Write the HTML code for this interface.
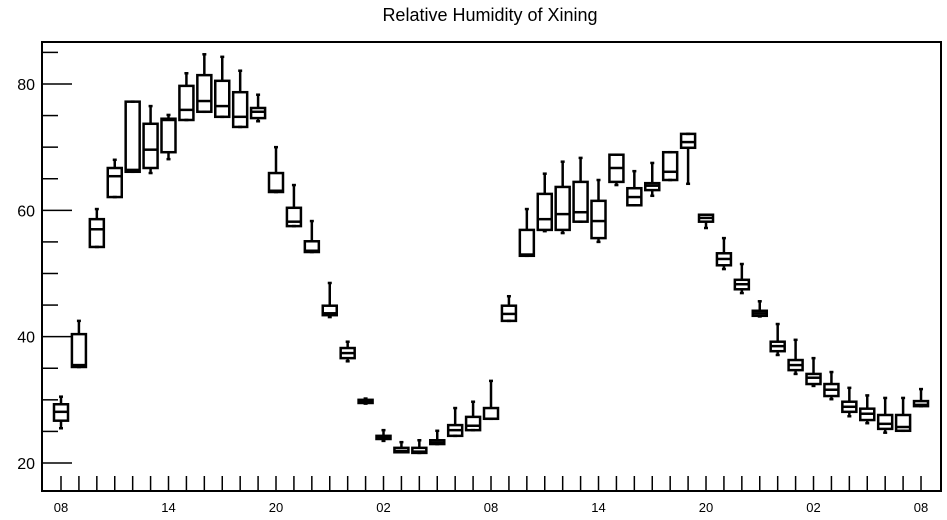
<!DOCTYPE html>
<html><head><meta charset="utf-8"><style>
html,body{margin:0;padding:0;background:#fff}
svg{display:block}
text{font-family:"Liberation Sans",sans-serif;fill:#000}
</style></head><body>
<svg id="chart" width="947" height="520" viewBox="0 0 947 520" xmlns="http://www.w3.org/2000/svg">
<text x="490" y="21" font-size="18" text-anchor="middle">Relative Humidity of Xining</text>
<rect x="42" y="42" width="899" height="449" fill="none" stroke="#000" stroke-width="2"/>
<g id="axes"></g>
<g id="boxes"></g>
</svg>
<script>
const xLabels = ["08","14","20","02","08","14","20","02","08"];
const yTicks = [20,40,60,80];
const mins = [25.5,35.2,54.2,62.1,66.1,65.9,68.1,74.3,75.6,74.8,73.2,74.1,62.9,57.5,53.4,43.1,36.1,29.4,23.5,21.7,21.6,23.0,24.3,25.2,27.0,42.5,52.8,56.7,56.4,58.2,55.0,64.0,60.8,62.3,64.8,64.2,57.2,50.7,46.9,43.2,37.1,34.1,32.2,30.1,27.4,26.3,24.8,25.1,29.0];
const q1s = [26.7,35.2,54.2,62.1,66.1,66.7,69.2,74.3,75.6,74.8,73.2,74.6,62.9,57.5,53.4,43.4,36.6,29.5,23.8,21.7,21.6,23.0,24.3,25.2,27.0,42.5,52.8,56.9,56.9,58.2,55.6,64.5,60.8,63.2,64.8,69.9,58.2,51.3,47.5,43.3,37.7,34.7,32.5,30.6,28.1,26.8,25.4,25.1,29.0];
const meds = [28.1,35.5,57.0,65.4,66.4,69.6,74.3,75.9,77.3,76.5,74.8,75.6,63.1,58.2,53.6,43.7,37.4,29.7,24.0,21.9,21.8,23.2,25.2,25.9,27.0,43.6,53.0,58.6,59.4,59.7,58.3,66.7,62.1,63.9,66.1,70.8,58.8,52.3,48.3,43.7,38.5,35.5,33.5,31.6,28.9,27.8,26.2,25.7,29.2];
const q3s = [29.3,40.4,58.6,66.7,77.2,73.7,74.5,79.7,81.4,80.5,78.7,76.2,65.9,60.4,55.1,44.9,38.2,30.0,24.3,22.4,22.4,23.6,26.0,27.3,28.7,44.9,56.9,62.6,63.7,64.5,61.5,68.8,63.5,64.3,69.2,72.1,59.3,53.2,49.0,44.1,39.2,36.3,34.1,32.5,29.7,28.6,27.6,27.6,29.8];
const maxs = [30.5,42.5,60.2,68.0,77.2,76.5,75.1,81.7,84.7,84.3,82.1,78.3,70.0,64.0,58.3,48.5,39.2,30.2,25.2,23.3,23.6,25.1,28.7,29.7,33.0,46.4,60.2,65.8,67.7,68.3,64.8,68.8,66.2,67.5,69.2,72.1,59.3,55.6,51.5,45.6,42.0,39.5,36.6,34.4,31.9,30.7,30.3,30.3,31.7];

const NS="http://www.w3.org/2000/svg";
const x0=61, xStep=17.917, yBase=463, yScale=6.317;
function xPos(i){return x0+i*xStep;}
function yPos(v){return yBase-(v-20)*yScale;}
function mk(tag,attrs,parent){const e=document.createElementNS(NS,tag);for(const k in attrs)e.setAttribute(k,attrs[k]);parent.appendChild(e);return e;}
const axes=document.getElementById('axes');
const boxes=document.getElementById('boxes');
// y ticks
for(let v=20; v<=85; v+=5){
  const major=yTicks.indexOf(v)>=0;
  const t=mk('line',{x1:42,x2:major?72:58,y1:yPos(v),y2:yPos(v),stroke:'#000','stroke-width':1.5},axes);
  
  
}
yTicks.forEach(v=>{
  const t=mk('text',{x:35,y:yPos(v)+6,'font-size':16,'text-anchor':'end'},axes);
  t.textContent=v;
  
  
});
// x ticks
for(let i=0;i<mins.length;i++){
  const t=mk('line',{x1:xPos(i),x2:xPos(i),y1:491,y2:476,stroke:'#000','stroke-width':1.5},axes);
  
  
}
xLabels.forEach((l,k)=>{
  const t=mk('text',{x:xPos(k*6),y:512,'font-size':13,'text-anchor':'middle'},axes);
  t.textContent=l;
  
  
});
// boxes
const hw=7;
for(let i=0;i<mins.length;i++){
  const g=mk('g',{stroke:'#000','stroke-width':2.5,fill:'none'},boxes);
  
  
  const x=xPos(i);
  mk('line',{x1:x,x2:x,y1:yPos(maxs[i]),y2:yPos(q3s[i])},g);
  mk('line',{x1:x-2,x2:x+2,y1:yPos(maxs[i]),y2:yPos(maxs[i])},g);
  mk('line',{x1:x,x2:x,y1:yPos(q1s[i]),y2:yPos(mins[i])},g);
  mk('line',{x1:x-2,x2:x+2,y1:yPos(mins[i]),y2:yPos(mins[i])},g);
  mk('rect',{x:x-hw,y:yPos(q3s[i]),width:hw*2,height:Math.max(1,yPos(q1s[i])-yPos(q3s[i]))},g);
  mk('line',{x1:x-hw,x2:x+hw,y1:yPos(meds[i]),y2:yPos(meds[i])},g);
}
</script>
</body></html>
